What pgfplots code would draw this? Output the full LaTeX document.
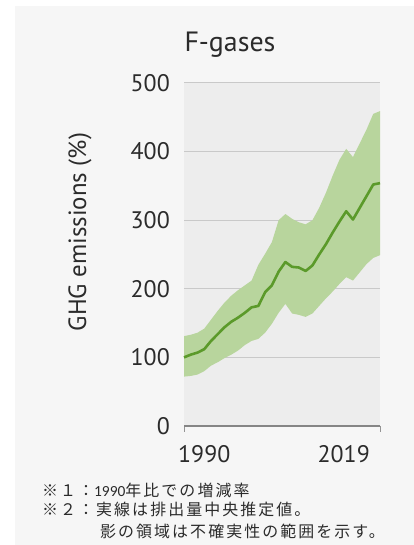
\documentclass[border=0pt]{standalone}
\usepackage{pgfplots}
\pgfplotsset{compat=1.18}
\usepackage{pgfplotstable}
\usepackage{fontspec}
\setmainfont{PT Sans}
\newfontfamily\jpfont[LetterSpace=13]{Noto Sans CJK JP}
\newfontfamily\numfont{Carlito}

\definecolor{panel}{HTML}{F6F6F6}
\definecolor{plotbg}{HTML}{EDEDED}
\definecolor{gridc}{HTML}{C9C9C9}
\definecolor{band}{HTML}{B8D59D}
\definecolor{midline}{HTML}{5B9A2A}
\definecolor{txt}{HTML}{2B2B2B}

% F-gas emissions relative to 1990 (%): central estimate
\pgfplotstableread{
year mid
1990 100
1991 104
1992 107
1993 112
1994 124
1995 134
1996 144
1997 152
1998 158
1999 165
2000 173
2001 175
2002 195
2003 205
2004 225
2005 239
2006 232
2007 231
2008 226
2009 234
2010 250
2011 265
2012 282
2013 298
2014 313
2015 301
2016 318
2017 335
2018 352
2019 354
}\fgasmid

% uncertainty range: upper bound forward in time, then lower bound backward
\pgfplotstableread{
year val
1990 131
1991 133
1992 136
1993 142
1994 155
1995 168
1996 180
1997 190
1998 198
1999 205
2000 212
2001 235
2002 251
2003 268
2004 300
2005 309
2006 302
2007 297
2008 294
2009 300
2010 318
2011 340
2012 365
2013 388
2014 404
2015 392
2016 412
2017 432
2018 455
2019 459
2019 249
2018 245
2017 236
2016 224
2015 212
2014 217
2013 207
2012 196
2011 186
2010 175
2009 164
2008 159
2007 162
2006 164
2005 178
2004 165
2003 149
2002 136
2001 127
2000 124
1999 118
1998 110
1997 104
1996 99
1995 93
1994 88
1993 80
1992 75
1991 73
1990 72
}\fgasrange

\begin{document}
\begin{tikzpicture}
\fill[white] (0bp,0bp) rectangle (414bp,545bp);
\fill[panel] (15bp,0bp) rectangle (414bp,539bp);

\begin{axis}[
  scale only axis,
  width=196bp, height=343bp,
  at={(184bp,119bp)}, anchor=south west,
  xmin=1990, xmax=2019, ymin=0, ymax=500,
  clip=false,
  axis line style={draw=none},
  xtick=\empty,
  ytick={0,100,...,500},
  ytick style={draw=none},
  /pgf/number format/assume math mode=true,
  yticklabel style={font=\fontsize{24}{24}\selectfont, text=txt, inner sep=0pt, xshift=-14bp},
]
% plot area and horizontal grid
\fill[plotbg] (axis cs:1990,0) rectangle (axis cs:2019,500);
\draw[gridc, line width=1bp] (axis cs:1990,100) -- (axis cs:2019,100);
\draw[gridc, line width=1bp] (axis cs:1990,200) -- (axis cs:2019,200);
\draw[gridc, line width=1bp] (axis cs:1990,300) -- (axis cs:2019,300);
\draw[gridc, line width=1bp] (axis cs:1990,400) -- (axis cs:2019,400);
\draw[gridc, line width=1bp] (axis cs:1990,500) -- (axis cs:2019,500);

\addplot[fill=band, draw=none] table[x=year, y=val] {\fgasrange} -- cycle;
\addplot[midline, line width=2.6bp, line join=round] table[x=year, y=mid] {\fgasmid};

% baseline and end ticks
\draw[black!42, line width=0.9bp] (axis cs:1990,0) -- ++(0bp,-6bp);
\draw[black!42, line width=0.9bp] (axis cs:2019,0) -- ++(0bp,-6bp);
\draw[black!48, line width=2.4bp] (axis cs:1990,0) -- (axis cs:2019,0);
\end{axis}

% axis end labels, aligned to the first and last year ticks
\node[anchor=north west, inner sep=0pt, font=\fontsize{24}{24}\selectfont, text=txt] at (178bp,100bp) {1990};
\node[anchor=north east, inner sep=0pt, font=\fontsize{24}{24}\selectfont, text=txt] at (370bp,100bp) {2019};

\node[font=\fontsize{28}{28}\selectfont, text=txt] at (230bp,500bp) {F-gases};
\node[rotate=90, font=\fontsize{25}{25}\selectfont, text=txt] at (80bp,313bp) {GHG emissions (\%)};

\node[anchor=west, inner sep=0pt, font=\jpfont\fontsize{16}{16}\selectfont, text=txt] at (42bp,55bp) {※１：{\numfont\fontsize{15.5}{16}\selectfont 1990}年比での増減率};
\node[anchor=west, inner sep=0pt, font=\jpfont\fontsize{16}{16}\selectfont, text=txt] at (42bp,36bp) {※２：実線は排出量中央推定値。};
\node[anchor=west, inner sep=0pt, font=\jpfont\fontsize{16}{16}\selectfont, text=txt] at (100bp,14bp) {影の領域は不確実性の範囲を示す。};
\end{tikzpicture}
\end{document}
